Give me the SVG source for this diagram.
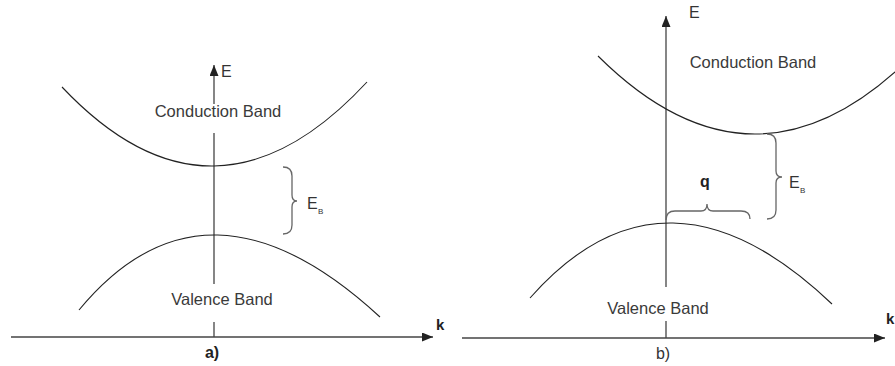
<svg xmlns="http://www.w3.org/2000/svg" width="895" height="366" viewBox="0 0 895 366">
<style>
.band{fill:none;stroke:#222;stroke-width:1.1}
.axis{fill:none;stroke:#444;stroke-width:1.3}
.brace{fill:none;stroke:#666;stroke-width:1.3}
.lbl{font-family:"Liberation Sans",Arial,sans-serif;font-size:16.5px;fill:#3a3a3a}
.ax{font-family:"Liberation Sans",Arial,sans-serif;font-size:16px;fill:#333}
.sub{font-family:"Liberation Sans",Arial,sans-serif;font-size:8px;fill:#333}
.bold{font-weight:bold;fill:#222}
</style>
<defs>
<marker id="arr" markerUnits="userSpaceOnUse" markerWidth="11" markerHeight="9" refX="11" refY="4.5" orient="auto">
<path d="M0,0 L11,4.5 L0,9 z" fill="#222"/>
</marker>
</defs>
<rect width="895" height="366" fill="#fff"/>
<g id="connectors">
<line class="axis" x1="214" y1="104" x2="214" y2="65" marker-end="url(#arr)"/>
<line class="axis" x1="214" y1="133" x2="214" y2="284"/>
<line class="axis" x1="214" y1="322" x2="214" y2="337"/>
<line class="axis" x1="11" y1="337" x2="433" y2="337" marker-end="url(#arr)"/>
<line class="axis" x1="666" y1="287" x2="666" y2="16" marker-end="url(#arr)"/>
<line class="axis" x1="666" y1="321" x2="666" y2="338"/>
<line class="axis" x1="462" y1="338" x2="885" y2="338" marker-end="url(#arr)"/>
</g>
<g id="panel-a">
<g id="a-conduction"><path class="band" d="M62,87 Q213.5,247.5 367,82"/>
<text class="lbl" x="218" y="117" text-anchor="middle">Conduction Band</text></g>
<g id="a-valence"><path class="band" d="M79,310 Q206,156.5 380,317"/>
<text class="lbl" x="222" y="305" text-anchor="middle">Valence Band</text></g>
<g id="a-gap"><path class="brace" d="M283,167 Q292,167 292,176 L292,195 Q292,201 297,201 Q292,201 292,207 L292,225 Q292,234 283,234"/>
<text class="ax" x="307" y="209">E</text><text class="sub" x="318" y="214">B</text></g>
<text class="ax" x="221" y="77">E</text>
<text class="ax bold" x="436" y="330" style="font-size:15px">k</text>
<text class="ax bold" x="212" y="358" text-anchor="middle" style="font-size:16px">a)</text>
</g>
<g id="panel-b">
<g id="b-conduction"><path class="band" d="M598,56 Q755,212 912,56"/>
<text class="lbl" x="753" y="68" text-anchor="middle">Conduction Band</text></g>
<g id="b-valence"><path class="band" d="M530,298 Q665,145 832,304"/>
<text class="lbl" x="658" y="314" text-anchor="middle">Valence Band</text></g>
<g id="b-gap"><path class="brace" d="M767,134 Q776,134 776,143 L776,171 Q776,177 782,177 Q776,177 776,183 L776,210 Q776,219 767,219"/>
<text class="ax" x="789" y="188">E</text><text class="sub" x="800" y="193">B</text></g>
<g id="b-q"><path class="brace" d="M666,220 Q666,211 675,211 L701,211 Q707,211 707,204 Q707,211 713,211 L741,211 Q750,211 750,219"/>
<text class="ax bold" x="705" y="187" text-anchor="middle">q</text></g>
<text class="ax" x="689" y="18">E</text>
<text class="ax bold" x="886" y="324" style="font-size:15px">k</text>
<text class="ax" x="663" y="359" text-anchor="middle" style="font-size:16px">b)</text>
</g>
</svg>
